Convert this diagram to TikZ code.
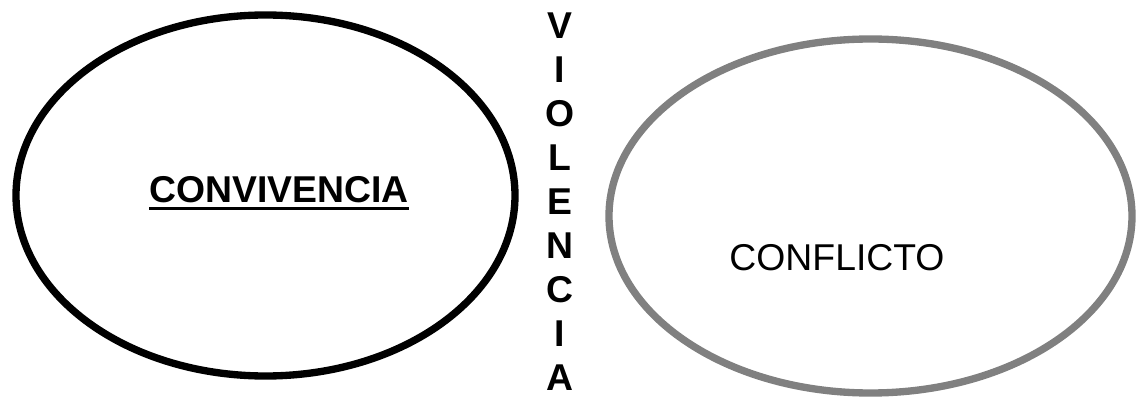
\documentclass[tikz,border=0pt]{standalone}
\usepackage{fontspec}
\setmainfont{Liberation Sans}
\usepackage{tikz}
\usetikzlibrary{calc}
\newcommand{\ulword}[1]{\leavevmode\vtop{\hbox{#1}\kern3pt\hrule height 2pt}}
\tikzset{
    bigtext/.style={font=\fontsize{28}{33}\selectfont, inner sep=0pt},
    circulo/.style={line width=5.5pt}
}
\definecolor{gris}{RGB}{128,128,128}

\begin{document}
\begin{tikzpicture}[x=0.75pt,y=-0.75pt]
\useasboundingbox (0,0) rectangle (1146,399);
\coordinate (L) at (265.5,195.5);
\coordinate (R) at (870.5,216);

\draw[circulo,black] (L) ellipse [x radius=249.5, y radius=180.5];
\draw[circulo,gris] (R) ellipse [x radius=261.5, y radius=177];

\node[bigtext,font=\fontsize{28}{33}\selectfont\bfseries] (conv) at (279,193) {\ulword{CONVIVENCIA}};
\node[bigtext] (conf) at (837,258) {CONFLICTO};
\node[bigtext,font=\fontsize{28}{33}\selectfont\bfseries,align=center] (viol) at (560,202) {V\\I\\O\\L\\E\\N\\C\\I\\A};
\end{tikzpicture}
\end{document}
